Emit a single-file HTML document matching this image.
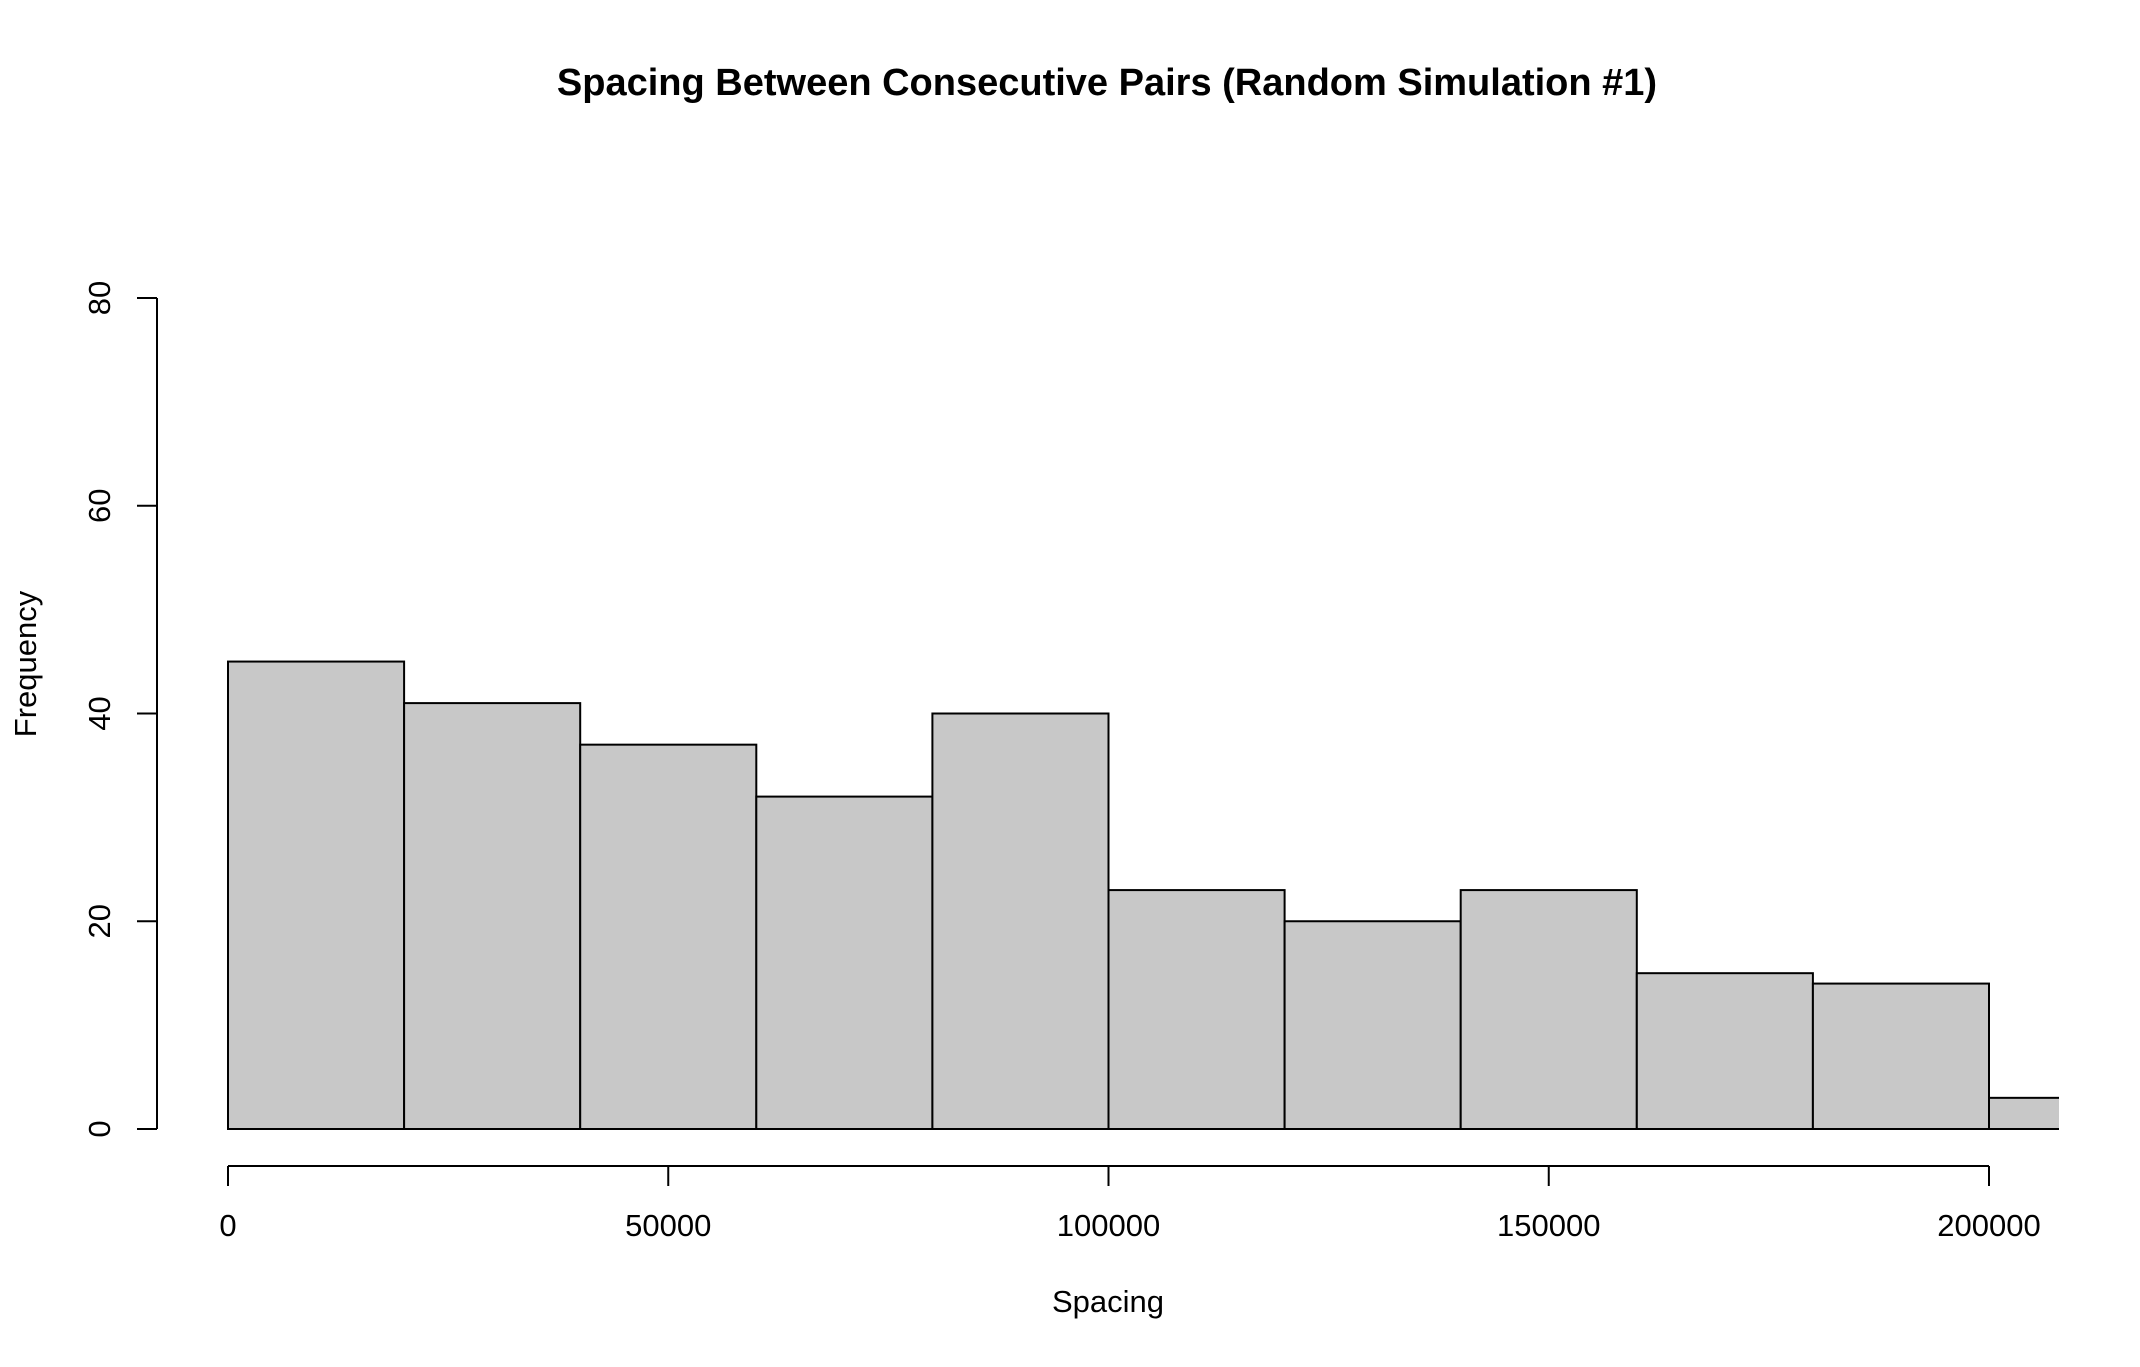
<!DOCTYPE html>
<html><head><meta charset="utf-8"><style>
body{margin:0;background:#fff}
svg text{font-family:"Liberation Sans",sans-serif;fill:#000}
</style></head><body>
<svg width="2140" height="1362">
<defs><clipPath id="pc"><rect x="0" y="0" width="2059" height="1362"/></clipPath></defs>
<text x="1107" y="95" font-size="38" font-weight="bold" text-anchor="middle">Spacing Between Consecutive Pairs (Random Simulation #1)</text>
<g id="bars" clip-path="url(#pc)"></g>
<g id="axes"></g>
<text x="1108" y="1312" font-size="31" text-anchor="middle">Spacing</text>
<text transform="translate(36,664) rotate(-90)" font-size="31" text-anchor="middle">Frequency</text>
</svg>
<script>
const binStarts=[0,20000,40000,60000,80000,100000,120000,140000,160000,180000,200000];
const binWidth=20000;
const counts=[45,41,37,32,40,23,20,23,15,14,3];
const xTicks=[0,50000,100000,150000,200000];
const yTicks=[0,20,40,60,80];
const X=v=>228+v*(1989-228)/200000;
const Y=v=>1129-v*(1129-298)/80;
const NS='http://www.w3.org/2000/svg';
const bars=document.getElementById('bars'),axes=document.getElementById('axes');
function mk(p,tag,attrs){const e=document.createElementNS(NS,tag);for(const k in attrs)e.setAttribute(k,attrs[k]);p.appendChild(e);return e;}
counts.forEach((c,i)=>{
 const r=mk(bars,'rect',{x:X(binStarts[i]),y:Y(c),width:X(binStarts[i]+binWidth)-X(binStarts[i]),height:Y(0)-Y(c),fill:'#c8c8c8',stroke:'#000','stroke-width':2});
 
 
});
mk(axes,'line',{x1:157,x2:157,y1:Y(0),y2:Y(80),stroke:'#000','stroke-width':2});
yTicks.forEach(t=>{
 mk(axes,'line',{x1:137,x2:157,y1:Y(t),y2:Y(t),stroke:'#000','stroke-width':2});
 const tx=mk(axes,'text',{transform:`translate(110,${Y(t)}) rotate(-90)`,'font-size':31,'text-anchor':'middle'});
 tx.textContent=t;
 
 
});
mk(axes,'line',{x1:X(0),x2:X(200000),y1:1166,y2:1166,stroke:'#000','stroke-width':2});
xTicks.forEach(t=>{
 mk(axes,'line',{x1:X(t),x2:X(t),y1:1166,y2:1186,stroke:'#000','stroke-width':2});
 const tx=mk(axes,'text',{x:X(t),y:1236,'font-size':31,'text-anchor':'middle'});
 tx.textContent=t;
 
 
});
</script>
</body></html>
